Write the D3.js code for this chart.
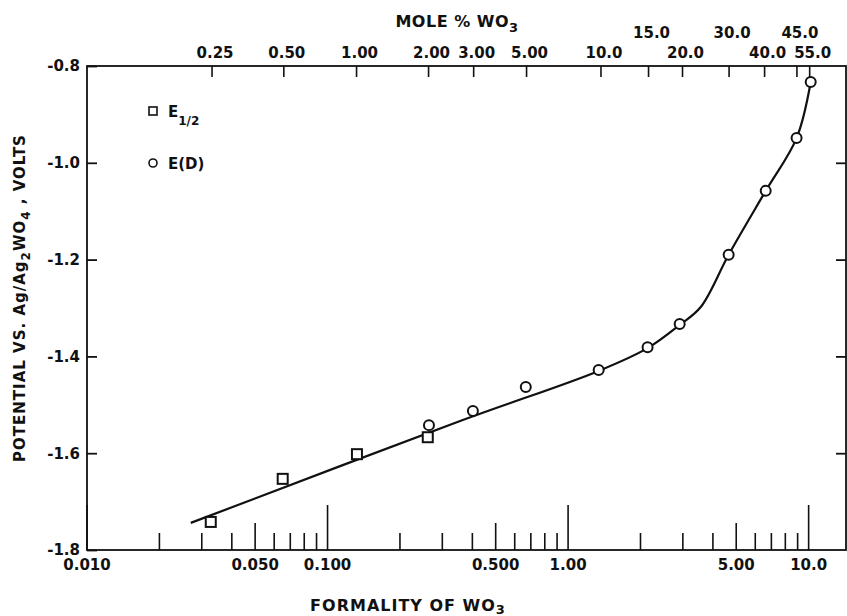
<!DOCTYPE html>
<html><head><meta charset="utf-8">
<script src="https://cdn.jsdelivr.net/npm/d3@7"></script>
<style>
body{margin:0;background:#fff}
svg{display:block}
text{font-family:"DejaVu Sans",sans-serif;font-weight:bold;fill:#111}
</style>
</head><body><svg id="c" width="847" height="616"></svg>
<script>
// ---- data ----
const squareF = [0.0327, 0.0651, 0.1325, 0.261];          // E1/2 : formality of WO3
const squareV = [-1.742, -1.653, -1.602, -1.567];          // volts
const circleF = [0.264, 0.402, 0.667, 1.34, 2.14, 2.91, 4.65, 6.63, 8.91, 10.2]; // E(D)
const circleV = [-1.542, -1.513, -1.463, -1.428, -1.381, -1.333, -1.190, -1.058, -0.949, -0.833];
const curveF = [0.027, 0.358, 1.34, 2.14, 2.91, 3.56, 4.65, 6.63, 8.91, 10.2];
const curveV = [-1.744, -1.533, -1.430, -1.383, -1.335, -1.298, -1.190, -1.058, -0.949, -0.833];

const yTickValues = [-0.8, -1.0, -1.2, -1.4, -1.6, -1.8];
const yTickLabels = ["-0.8", "-1.0", "-1.2", "-1.4", "-1.6", "-1.8"];
const bottomTickValues = [0.01, 0.05, 0.1, 0.5, 1, 5, 10];
const bottomTickLabels = ["0.010", "0.050", "0.100", "0.500", "1.00", "5.00", "10.0"];
// top axis: mole % WO3 and the equivalent formality where each tick sits
const topTickLabels = ["0.25", "0.50", "1.00", "2.00", "3.00", "5.00", "10.0", "15.0", "20.0", "30.0", "40.0", "45.0", "55.0"];
const topTickF      = [0.0331, 0.0658, 0.132, 0.263, 0.405, 0.672, 1.37, 2.16, 2.99, 4.67, 6.56, 8.94, 10.1];
const topTickRow    = [0, 0, 0, 0, 0, 0, 0, 1, 0, 1, 0, 1, 0];

// ---- layout ----
const W = 847, H = 616;
const m = {left: 87, right: 846, top: 66, bottom: 550};
const INK = "#111";
const x = d3.scaleLog().domain([0.01, 14.3]).range([m.left, m.right]);
const y = d3.scaleLinear().domain([-0.8, -1.8]).range([m.top, m.bottom]);

const svg = d3.select("#c");
svg.append("rect").attr("width", W).attr("height", H).attr("fill", "#fff");

// frame
svg.append("rect")
  .attr("x", m.left).attr("y", m.top)
  .attr("width", m.right - m.left).attr("height", m.bottom - m.top)
  .attr("fill", "none").attr("stroke", INK).attr("stroke-width", 1.8);

// left axis
const yl = svg.append("g").attr("transform", `translate(${m.left},0)`)
  .call(d3.axisLeft(y).tickValues(yTickValues).tickSize(-10).tickSizeOuter(0)
        .tickPadding(7).tickFormat((d, i) => yTickLabels[i]));
yl.select(".domain").remove();
yl.selectAll("line").attr("stroke", INK).attr("stroke-width", 1.8);
yl.selectAll("text").attr("font-size", 15).attr("font-family", "DejaVu Sans").attr("font-weight", "bold").attr("fill", INK);

// right axis (inner ticks only)
const yr = svg.append("g").attr("transform", `translate(${m.right},0)`)
  .call(d3.axisRight(y).tickValues(yTickValues.slice(1, -1)).tickSize(-10).tickSizeOuter(0).tickFormat(""));
yr.select(".domain").remove();
yr.selectAll("line").attr("stroke", INK).attr("stroke-width", 1.8);

// bottom ticks (log scale, inward)
const bt = x.ticks();
svg.append("g").selectAll("line").data(bt).join("line")
  .attr("x1", d => x(d)).attr("x2", d => x(d))
  .attr("y1", m.bottom)
  .attr("y2", d => {
    const mant = Math.round(d / Math.pow(10, Math.floor(Math.log10(d) + 1e-9)));
    return m.bottom - (mant === 1 ? 45 : mant === 5 ? 27 : 17);
  })
  .attr("stroke", INK).attr("stroke-width", 1.6);

svg.append("g").selectAll("text").data(bottomTickValues).join("text")
  .attr("x", d => x(d)).attr("y", 570)
  .attr("text-anchor", "middle").attr("font-size", 15)
  .text((d, i) => bottomTickLabels[i]);

// top ticks
svg.append("g").selectAll("line").data(topTickF).join("line")
  .attr("x1", d => x(d)).attr("x2", d => x(d))
  .attr("y1", m.top).attr("y2", m.top + 11)
  .attr("stroke", INK).attr("stroke-width", 1.6);

svg.append("g").selectAll("text").data(topTickF).join("text")
  .attr("x", d => x(d) + 3).attr("y", (d, i) => topTickRow[i] ? 38 : 58)
  .attr("text-anchor", "middle").attr("font-size", 15)
  .text((d, i) => topTickLabels[i]);

// axis titles
const tTop = svg.append("text").attr("x", 457).attr("y", 27).attr("text-anchor", "middle")
  .attr("font-size", 16).attr("letter-spacing", 0.5);
tTop.append("tspan").text("MOLE % WO");
tTop.append("tspan").attr("dy", 5).attr("font-size", 13).text("3");

const tBot = svg.append("text").attr("x", 408).attr("y", 611).attr("text-anchor", "middle")
  .attr("font-size", 16).attr("letter-spacing", 1);
tBot.append("tspan").text("FORMALITY OF WO");
tBot.append("tspan").attr("dy", 3).attr("font-size", 13).text("3");

const tY = svg.append("text").attr("transform", "translate(25,298) rotate(-90)")
  .attr("text-anchor", "middle").attr("font-size", 15).attr("letter-spacing", 1);
tY.append("tspan").text("POTENTIAL VS. Ag/Ag");
tY.append("tspan").attr("dy", 5).attr("font-size", 12).text("2");
tY.append("tspan").attr("dy", -5).text("WO");
tY.append("tspan").attr("dy", 5).attr("font-size", 12).text("4");
tY.append("tspan").attr("dy", -5).text(" , VOLTS");

// fitted curve
const line = d3.line().x(d => x(d[0])).y(d => y(d[1])).curve(d3.curveCatmullRom.alpha(0.5));
svg.append("path").datum(curveF.map((f, i) => [f, curveV[i]]))
  .attr("d", line).attr("fill", "none").attr("stroke", INK).attr("stroke-width", 2.2);

// markers
const S = 10;
svg.append("g").selectAll("rect").data(squareF).join("rect")
  .attr("x", d => x(d) - S / 2).attr("y", (d, i) => y(squareV[i]) - S / 2)
  .attr("width", S).attr("height", S)
  .attr("fill", "#fff").attr("stroke", INK).attr("stroke-width", 2);

svg.append("g").selectAll("circle").data(circleF).join("circle")
  .attr("cx", d => x(d)).attr("cy", (d, i) => y(circleV[i])).attr("r", 5)
  .attr("fill", "#fff").attr("stroke", INK).attr("stroke-width", 2);

// legend
const lg = svg.append("g");
lg.append("rect").attr("x", 149).attr("y", 107).attr("width", 8).attr("height", 8)
  .attr("fill", "#fff").attr("stroke", INK).attr("stroke-width", 1.6);
const l1 = lg.append("text").attr("x", 168).attr("y", 117).attr("font-size", 15);
l1.append("tspan").text("E");
l1.append("tspan").attr("dy", 8).attr("font-size", 12).text("1/2");
lg.append("circle").attr("cx", 153).attr("cy", 163).attr("r", 4)
  .attr("fill", "#fff").attr("stroke", INK).attr("stroke-width", 1.6);
lg.append("text").attr("x", 168).attr("y", 169).attr("font-size", 15).text("E(D)");
</script>
</body></html>
